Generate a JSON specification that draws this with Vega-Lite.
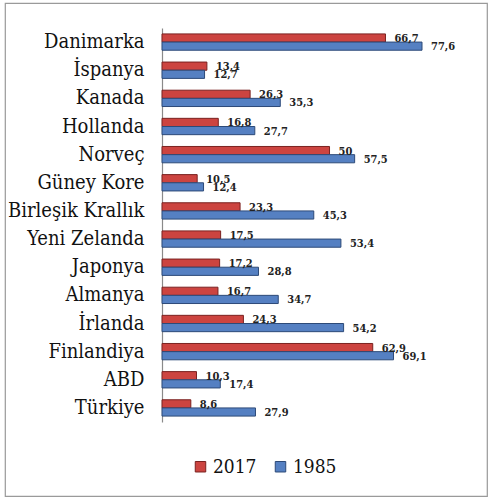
{
  "$schema": "https://vega.github.io/schema/vega-lite/v6.json",
  "width": 482,
  "height": 493,
  "padding": {"left": 5, "top": 3, "right": 3, "bottom": 3},
  "background": "white",
  "config": {
    "view": {"stroke": "#9a9a9a", "strokeWidth": 1.2},
    "locale": {"number": {"decimal": ",", "thousands": ".", "grouping": [3], "currency": ["", " ₺"]}}
  },
  "data": {
    "values": [
      {"ulke": "Danimarka", "yil": "2017", "deger": 66.7},
      {"ulke": "Danimarka", "yil": "1985", "deger": 77.6},
      {"ulke": "İspanya", "yil": "2017", "deger": 13.4},
      {"ulke": "İspanya", "yil": "1985", "deger": 12.7},
      {"ulke": "Kanada", "yil": "2017", "deger": 26.3},
      {"ulke": "Kanada", "yil": "1985", "deger": 35.3},
      {"ulke": "Hollanda", "yil": "2017", "deger": 16.8},
      {"ulke": "Hollanda", "yil": "1985", "deger": 27.7},
      {"ulke": "Norveç", "yil": "2017", "deger": 50},
      {"ulke": "Norveç", "yil": "1985", "deger": 57.5},
      {"ulke": "Güney Kore", "yil": "2017", "deger": 10.5},
      {"ulke": "Güney Kore", "yil": "1985", "deger": 12.4},
      {"ulke": "Birleşik Krallık", "yil": "2017", "deger": 23.3},
      {"ulke": "Birleşik Krallık", "yil": "1985", "deger": 45.3},
      {"ulke": "Yeni Zelanda", "yil": "2017", "deger": 17.5},
      {"ulke": "Yeni Zelanda", "yil": "1985", "deger": 53.4},
      {"ulke": "Japonya", "yil": "2017", "deger": 17.2},
      {"ulke": "Japonya", "yil": "1985", "deger": 28.8},
      {"ulke": "Almanya", "yil": "2017", "deger": 16.7},
      {"ulke": "Almanya", "yil": "1985", "deger": 34.7},
      {"ulke": "İrlanda", "yil": "2017", "deger": 24.3},
      {"ulke": "İrlanda", "yil": "1985", "deger": 54.2},
      {"ulke": "Finlandiya", "yil": "2017", "deger": 62.9},
      {"ulke": "Finlandiya", "yil": "1985", "deger": 69.1},
      {"ulke": "ABD", "yil": "2017", "deger": 10.3},
      {"ulke": "ABD", "yil": "1985", "deger": 17.4},
      {"ulke": "Türkiye", "yil": "2017", "deger": 8.6},
      {"ulke": "Türkiye", "yil": "1985", "deger": 27.9}
    ]
  },
  "encoding": {
    "y": {
      "field": "ulke", "type": "nominal", "sort": null,
      "scale": {"range": [25, 419], "paddingInner": 0.42, "paddingOuter": 0.21},
      "axis": {
        "title": null, "offset": -157, "ticks": false,
        "domainColor": "#8a8a8a", "domainWidth": 1.2,
        "labelFont": "DejaVu Serif Condensed", "labelFontSize": 20, "labelColor": "#111",
        "labelPadding": 18, "labelLimit": 200
      }
    },
    "yOffset": {"field": "yil", "type": "nominal", "sort": ["2017", "1985"]},
    "x": {
      "field": "deger", "type": "quantitative",
      "scale": {"domain": [0, 97], "range": [157, 482], "nice": false, "zero": false},
      "axis": null
    }
  },
  "layer": [
    {
      "mark": {"type": "bar", "strokeWidth": 1},
      "encoding": {
        "color": {
          "field": "yil", "type": "nominal",
          "scale": {"domain": ["2017", "1985"], "range": ["#cc4440", "#5580c2"]},
          "legend": {
            "title": null, "orient": "none", "direction": "horizontal",
            "legendX": 186, "legendY": 454,
            "symbolType": "square", "symbolSize": 110, "symbolStrokeWidth": 1,
            "symbolStrokeColor": "#555",
            "labelFont": "DejaVu Serif Condensed", "labelFontSize": 19, "labelColor": "#111",
            "labelOffset": 3, "columnPadding": 14
          }
        },
        "stroke": {
          "field": "yil", "type": "nominal",
          "scale": {"domain": ["2017", "1985"], "range": ["#7a2220", "#2d4a78"]},
          "legend": null
        }
      }
    },
    {
      "mark": {"type": "text", "align": "left", "baseline": "middle", "dx": 9, "dy": 1,
               "font": "DejaVu Serif Condensed", "fontWeight": "bold", "fontSize": 11, "color": "#222"},
      "encoding": {
        "text": {"field": "deger", "type": "quantitative", "format": "~g"}
      }
    }
  ]
}
